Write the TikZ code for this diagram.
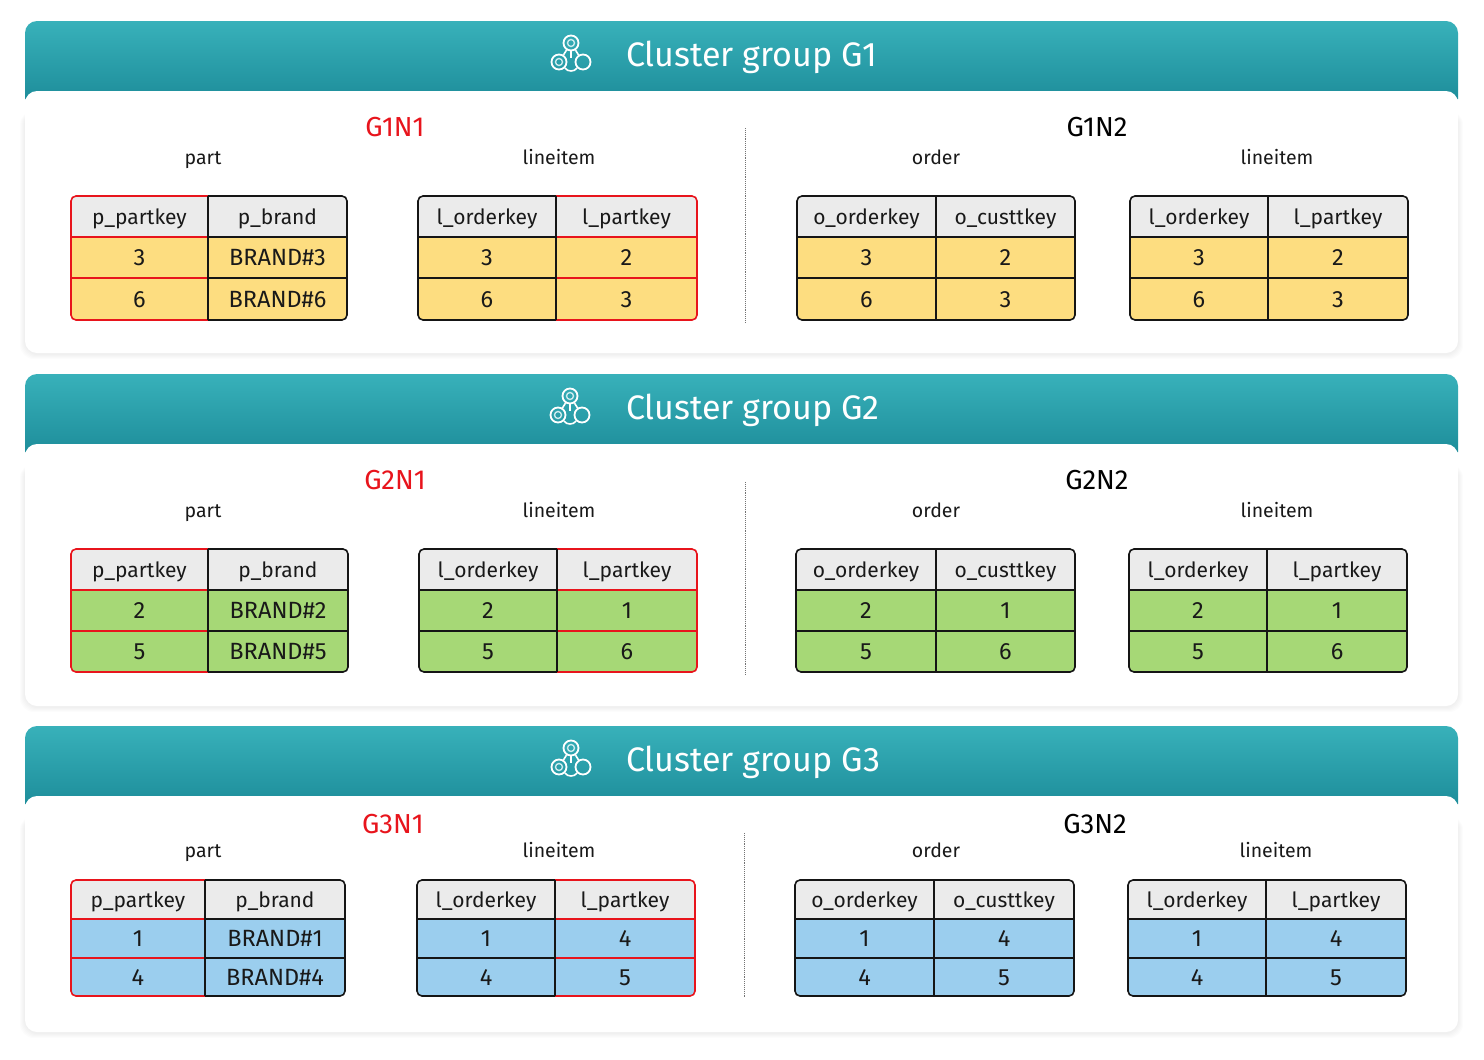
\documentclass[tikz,border=0pt]{standalone}
\usepackage{fontspec}
\setmainfont{Fira Sans}
\usepackage{xcolor}
\usetikzlibrary{positioning,calc}
\definecolor{headtop}{HTML}{38B1BA}
\definecolor{headbottom}{HTML}{1E8E9B}
\definecolor{headgray}{HTML}{EBEBEB}
\definecolor{rowyellow}{HTML}{FDDD80}
\definecolor{rowgreen}{HTML}{A6D876}
\definecolor{rowblue}{HTML}{9BCEEE}
\definecolor{linered}{HTML}{E8141C}
\definecolor{lineblack}{HTML}{151515}
\tikzstyle{cell} = [rectangle, inner sep=0pt, outer sep=0pt, anchor=north west, text=black!90, text height=19.5pt, text depth=4pt, font=\fontsize{21}{25}\selectfont]
\tikzstyle{valuecell} = [cell, text height=20pt, font=\fontsize{23.5}{27}\selectfont]
\tikzstyle{title} = [inner sep=0pt, text=white, text height=26pt, text depth=4pt, font=\fontsize{34}{38}\selectfont]
\tikzstyle{nodename} = [inner sep=0pt, text height=23pt, text depth=4pt, font=\fontsize{27.5}{31}\selectfont]
\tikzstyle{tablename} = [inner sep=0pt, text=black!90, text height=16pt, text depth=4pt, font=\fontsize{19.5}{23}\selectfont]
\tikzstyle{ring} = [circle, draw=white, line width=1.8pt, minimum size=15pt, inner sep=0pt]
\tikzstyle{innerring} = [circle, draw=white!75!headtop, line width=1.4pt, minimum size=7pt, inner sep=0pt]
\tikzstyle{divider} = [densely dotted, black!55, line width=0.9pt]
\tikzstyle{border} = [line width=1.6pt, rounded corners=5pt]
\tikzstyle{rule} = [line width=1.6pt]
\begin{document}
\begin{tikzpicture}[x=1pt,y=-1pt]
\useasboundingbox (0,0) rectangle (1484,1060);
\fill[white] (0,0) rectangle (1484,1060);
% panels
\foreach \gid/\ytop/\ybody/\ybottom/\ytitle/\xicon/\ynode/\ylabel/\xa/\xb/\xdiv/\ydiva/\ydivb/\xorder/\xline in {
  G1/21/91/353/55/571/127/158/395/1097/745/128/322/936/1277,
  G2/374/444/706/408/570/480/511/395/1097/745/482/675/936/1277,
  G3/726/796/1032/760/571/824/851/393/1095/744/833/998/936/1276}{
  \foreach \spread in {1,2,3,4,5}
    \fill[black, opacity=0.012, rounded corners=14pt] (25-\spread,\ybody+20) rectangle (1458+\spread,\ybottom+\spread+1);
  \shade[top color=headtop, bottom color=headbottom, rounded corners=12pt] (25,\ybody+8) -- (25,\ytop) -- (1458,\ytop) -- (1458,\ybody+8);
  \fill[white, rounded corners=12pt] (25,\ybody) rectangle (1458,\ybottom);
  \node[title, anchor=west] (title\gid) at (626,\ytitle) {Cluster group \gid};
  % icon
  \node[ring] (top\gid) at (\xicon,\ytitle-12) {};
  \node[ring] (left\gid) at (\xicon-12,\ytitle+7) {};
  \node[ring] (right\gid) at (\xicon+12,\ytitle+7) {};
  \node[innerring] at (top\gid) {};
  \node[innerring] at (left\gid) {};
  \draw[white, line width=1.6pt] (top\gid.south) -- ++(0,7);
  \draw[white, line width=1.6pt] (top\gid) -- (left\gid);
  \draw[white, line width=1.6pt] (top\gid) -- (right\gid);
  \draw[white, line width=1.6pt] (left\gid.south east) to[out=-60,in=-120] (right\gid.south west);
  % labels
  \node[nodename, text=linered] (\gid N1) at (\xa,\ynode) {\gid N1};
  \node[nodename, text=black] (\gid N2) at (\xb,\ynode) {\gid N2};
  \node[tablename] (part\gid) at (203,\ylabel) {part};
  \node[tablename] (lineA\gid) at (559,\ylabel) {lineitem};
  \node[tablename] (order\gid) at (\xorder,\ylabel) {order};
  \node[tablename] (lineB\gid) at (\xline,\ylabel) {lineitem};
  \coordinate (diva\gid) at (\xdiv,\ydiva);
  \coordinate (divb\gid) at (\xdiv,\ydivb);
  \draw[divider] (diva\gid) -- (divb\gid);
}
% tables
\foreach \id/\xa/\xb/\xc/\ya/\yb/\yc/\yd/\heada/\headb/\vala/\valb/\valc/\vald/\rowfill/\colora/\colorb in {
  ta/71/208/347/196/237/278/320/p\_partkey/p\_brand/3/BRAND\#3/6/BRAND\#6/rowyellow/linered/lineblack,
  tb/418/556/697/196/237/278/320/l\_orderkey/l\_partkey/3/2/6/3/rowyellow/lineblack/linered,
  tc/797/936/1075/196/237/278/320/o\_orderkey/o\_custtkey/3/2/6/3/rowyellow/lineblack/lineblack,
  td/1130/1268/1408/196/237/278/320/l\_orderkey/l\_partkey/3/2/6/3/rowyellow/lineblack/lineblack,
  te/71/208/348/549/590/631/672/p\_partkey/p\_brand/2/BRAND\#2/5/BRAND\#5/rowgreen/linered/lineblack,
  tf/419/557/697/549/590/631/672/l\_orderkey/l\_partkey/2/1/5/6/rowgreen/lineblack/linered,
  tg/796/936/1075/549/590/631/672/o\_orderkey/o\_custtkey/2/1/5/6/rowgreen/lineblack/lineblack,
  th/1129/1267/1407/549/590/631/672/l\_orderkey/l\_partkey/2/1/5/6/rowgreen/lineblack/lineblack,
  ti/71/205/345/880/919/958/996/p\_partkey/p\_brand/1/BRAND\#1/4/BRAND\#4/rowblue/linered/lineblack,
  tj/417/555/695/880/919/958/996/l\_orderkey/l\_partkey/1/4/4/5/rowblue/lineblack/linered,
  tk/795/934/1074/880/919/958/996/o\_orderkey/o\_custtkey/1/4/4/5/rowblue/lineblack/lineblack,
  tl/1128/1266/1406/880/919/958/996/l\_orderkey/l\_partkey/1/4/4/5/rowblue/lineblack/lineblack}{
  \begin{scope}
    \clip[rounded corners=5pt] (\xa,\ya) rectangle (\xc,\yd);
    \pgfmathsetmacro{\wa}{\xb-\xa}
    \pgfmathsetmacro{\wb}{\xc-\xb}
    \pgfmathsetmacro{\ha}{\yb-\ya}
    \pgfmathsetmacro{\hb}{\yc-\yb}
    \pgfmathsetmacro{\hc}{\yd-\yc}
    \node[cell, fill=headgray, minimum width=\wa pt, minimum height=\ha pt] (\id h1) at (\xa,\ya) {\heada};
    \node[cell, fill=headgray, minimum width=\wb pt, minimum height=\ha pt] (\id h2) at (\xb,\ya) {\headb};
    \node[valuecell, fill=\rowfill, minimum width=\wa pt, minimum height=\hb pt] (\id r1) at (\xa,\yb) {\vala};
    \node[valuecell, fill=\rowfill, minimum width=\wb pt, minimum height=\hb pt] (\id s1) at (\xb,\yb) {\valb};
    \node[valuecell, fill=\rowfill, minimum width=\wa pt, minimum height=\hc pt] (\id r2) at (\xa,\yc) {\valc};
    \node[valuecell, fill=\rowfill, minimum width=\wb pt, minimum height=\hc pt] (\id s2) at (\xb,\yc) {\vald};
  \end{scope}
  \draw[rule, \colora] (\id h1.south west) -- (\id h1.south east);
  \draw[rule, \colora] (\id r1.south west) -- (\id r1.south east);
  \draw[rule, \colorb] (\id h2.south west) -- (\id h2.south east);
  \draw[rule, \colorb] (\id s1.south west) -- (\id s1.south east);
  \draw[border, \colora] (\id h1.north east) -- (\id h1.north west) -- (\id r2.south west) -- (\id r2.south east);
  \draw[border, \colorb] (\id h2.north west) -- (\id h2.north east) -- (\id s2.south east) -- (\id s2.south west);
  \draw[rule, lineblack] (\id h2.north west) -- (\id s2.south west);
}
\end{tikzpicture}
\end{document}
